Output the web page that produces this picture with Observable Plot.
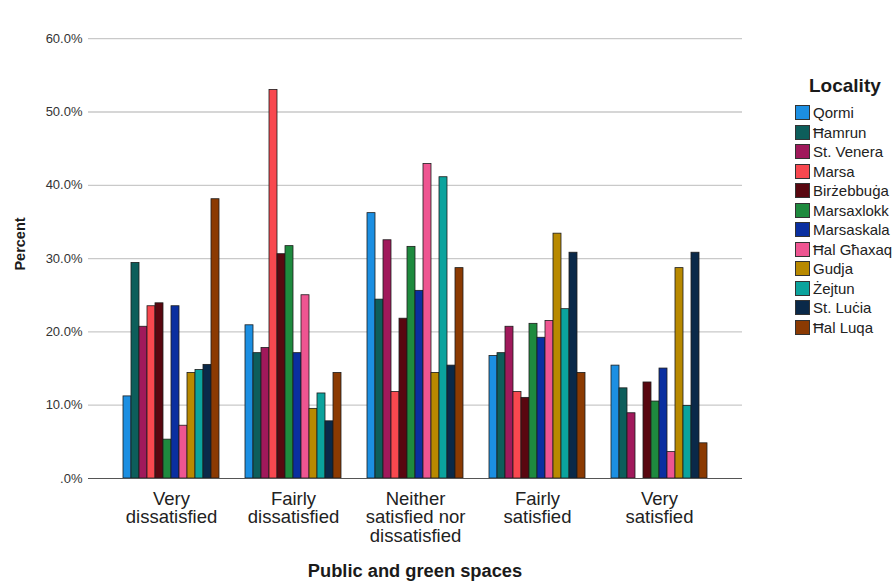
<!DOCTYPE html>
<html>
<head>
<meta charset="utf-8">
<script src="https://cdn.jsdelivr.net/npm/d3@7"></script>
<script src="https://cdn.jsdelivr.net/npm/@observablehq/plot@0.6"></script>
<style>
  body { margin: 0; background: #fff; }
  #wrap { position: relative; width: 896px; height: 583px; font-family: "Liberation Sans", Arial, sans-serif; color: #1a1a1a; }
  .layer { position: absolute; left: 0; top: 0; }
  .ylab { position: absolute; left: 20px; top: 244px; transform: translate(-50%, -50%) rotate(-90deg); font-weight: bold; font-size: 14.5px; white-space: nowrap; }
  .xlab { position: absolute; left: 415px; top: 562px; transform: translateX(-50%); font-weight: bold; font-size: 18.3px; white-space: nowrap; line-height: 1; }
  #legend { position: absolute; left: 795px; top: 75px; }
  #legend .title { font-weight: bold; font-size: 19px; margin-left: 14px; margin-bottom: 6px; line-height: 22px; }
  #legend .item { display: flex; align-items: center; height: 19.5px; font-size: 15px; color: #222; }
  #legend .sw { width: 13px; height: 13px; border: 1px solid #333; margin-right: 3px; box-sizing: content-box; }
</style>
</head>
<body>
<div id="wrap">
  <div id="base" class="layer"></div>
  <div id="bars" class="layer"></div>
  <div id="bl" class="layer"></div>
  <div class="ylab">Percent</div>
  <div class="xlab">Public and green spaces</div>
  <div id="legend"></div>
</div>
<script>
const groups = ["Very\ndissatisfied", "Fairly\ndissatisfied", "Neither\nsatisfied nor\ndissatisfied", "Fairly\nsatisfied", "Very\nsatisfied"];
const localities = ["Qormi", "Ħamrun", "St. Venera", "Marsa", "Birżebbuġa", "Marsaxlokk", "Marsaskala", "Ħal Għaxaq", "Gudja", "Żejtun", "St. Luċia", "Ħal Luqa"];
const colors = ["#1c8fe2", "#0d5e5b", "#a0195b", "#f8484f", "#590710", "#1e8a3e", "#0a2fa0", "#ee5591", "#b88900", "#0ba39d", "#0a2949", "#8b3a02"];
const veryDissatisfied   = [11.2, 29.4, 20.7, 23.5, 23.9, 5.3, 23.5, 7.2, 14.4, 14.8, 15.5, 38.1];
const fairlyDissatisfied = [20.9, 17.1, 17.8, 53.0, 30.6, 31.7, 17.1, 25.0, 9.5, 11.6, 7.8, 14.4];
const neither            = [36.2, 24.4, 32.5, 11.8, 21.8, 31.6, 25.6, 42.9, 14.4, 41.1, 15.4, 28.7];
const fairlySatisfied    = [16.7, 17.1, 20.7, 11.8, 11.0, 21.1, 19.2, 21.5, 33.4, 23.1, 30.8, 14.4];
const verySatisfied      = [15.4, 12.3, 8.9, 0, 13.1, 10.5, 15.0, 3.6, 28.7, 9.9, 30.8, 4.8];
const yTicks = [0, 10, 20, 30, 40, 50, 60];

const series = [veryDissatisfied, fairlyDissatisfied, neither, fairlySatisfied, verySatisfied];
const rows = [];
groups.forEach((g, gi) => localities.forEach((l, li) => {
  const v = series[gi][li];
  if (v > 0) rows.push({group: g, locality: l, value: v});
}));

const common = {
  width: 896,
  height: 583,
  marginLeft: 88,
  marginRight: 154,
  marginTop: 14,
  marginBottom: 105,
  style: {fontFamily: "'Liberation Sans', Arial, sans-serif", background: "transparent", overflow: "visible"},
  y: {domain: [0, 63.3], axis: null}
};

const base = Plot.plot({
  ...common,
  marks: [
    Plot.ruleY(yTicks.filter(d => d > 0), {stroke: "#c9c9c9", strokeWidth: 1.3}),
    Plot.axisY(yTicks, {tickSize: 0, tickPadding: 6, fontSize: 13, fill: "#333", label: null, line: true, stroke: "#777",
      tickFormat: d => d === 0 ? ".0%" : d.toFixed(1) + "%"})
  ]
});
document.getElementById("base").appendChild(base);

const bars = Plot.plot({
  ...common,
  fx: {domain: groups, paddingInner: 0.18, paddingOuter: 0.27, label: null},
  x: {domain: localities, padding: 0, axis: null},
  color: {domain: localities, range: colors},
  marks: [
    Plot.barY(rows, {fx: "group", x: "locality", y: "value", fill: "locality", stroke: "#1c1c1c", strokeWidth: 0.8}),
    Plot.axisFx({anchor: "bottom", tickSize: 0, tickPadding: 13, fontSize: 18.5, lineHeight: 1.0, fill: "#222", label: null})
  ]
});
document.getElementById("bars").appendChild(bars);

const baseline = Plot.plot({
  ...common,
  marks: [Plot.ruleY([0], {stroke: "#555", strokeWidth: 1.2})]
});
document.getElementById("bl").appendChild(baseline);

const legend = document.getElementById("legend");
const t = document.createElement("div");
t.className = "title";
t.textContent = "Locality";
legend.appendChild(t);
localities.forEach((l, i) => {
  const item = document.createElement("div");
  item.className = "item";
  const sw = document.createElement("span");
  sw.className = "sw";
  sw.style.background = colors[i];
  item.appendChild(sw);
  const tx = document.createElement("span");
  tx.textContent = l;
  item.appendChild(tx);
  legend.appendChild(item);
});
</script>
</body>
</html>
